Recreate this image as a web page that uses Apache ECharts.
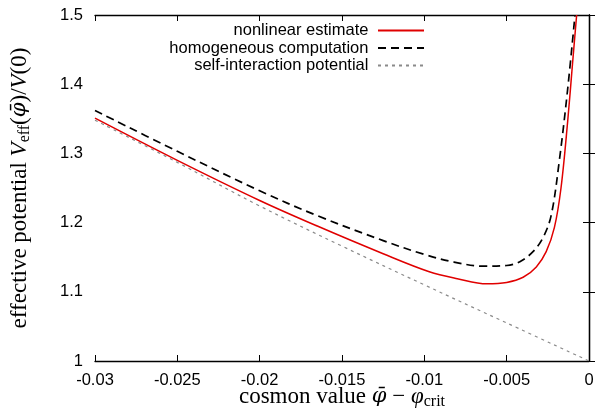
<!DOCTYPE html>
<html>
<head>
<meta charset="utf-8">
<script src="https://cdn.jsdelivr.net/npm/echarts@6/dist/echarts.min.js"></script>
<style>
html,body{margin:0;padding:0;background:#fff;}
#chart{width:597px;height:415px;}
</style>
</head>
<body>
<div id="chart"></div>
<script>
// ---- data ----
var xTicks = [-0.03, -0.025, -0.02, -0.015, -0.01, -0.005, 0];
var yTicks = [1, 1.1, 1.2, 1.3, 1.4, 1.5];
var seriesNames = ['nonlinear estimate', 'homogeneous computation', 'self-interaction potential'];

var nonlinearX = [-0.03, -0.025, -0.02, -0.0165, -0.0125, -0.0097, -0.008, -0.0062, -0.0050, -0.0040, -0.0032, -0.0026, -0.0021, -0.0017, -0.0013, -0.0010, -0.00075];
var nonlinearY = [1.351, 1.290, 1.232, 1.195, 1.155, 1.129, 1.119, 1.1115, 1.1135, 1.121, 1.136, 1.158, 1.193, 1.25, 1.345, 1.43, 1.5];

var homogX = [-0.03, -0.025, -0.02, -0.0165, -0.0125, -0.0100, -0.0082, -0.0064, -0.0050, -0.0042, -0.0034, -0.0028, -0.0023, -0.0018, -0.0013, -0.00085];
var homogY = [1.362, 1.303, 1.246, 1.210, 1.174, 1.154, 1.143, 1.137, 1.138, 1.1435, 1.158, 1.178, 1.21, 1.29, 1.392, 1.5];

var selfX = [-0.03, -0.025, -0.02, -0.015, -0.01, -0.005, 0];
var selfY = [1.348, 1.287, 1.224, 1.166, 1.110, 1.055, 1.0];

function zip(xs, ys) { var o = []; for (var i = 0; i < xs.length; i++) o.push([xs[i], ys[i]]); return o; }

var chart = echarts.init(document.getElementById('chart'), null, {renderer: 'canvas'});
var tickFont = {fontFamily: 'Liberation Sans', fontSize: 16.5, color: '#000'};
var serif = 'Liberation Serif';
var nameRich = {
  n: {fontFamily: serif, fontSize: 23, color: '#000', lineHeight: 27},
  i: {fontFamily: serif, fontSize: 23, fontStyle: 'italic', color: '#000', lineHeight: 27},
  b: {fontFamily: 'DejaVu Serif', fontSize: 21, fontStyle: 'italic', color: '#000', lineHeight: 27},
  s: {fontFamily: serif, fontSize: 16, color: '#000', lineHeight: 16, verticalAlign: 'bottom'}
};

var axisLine = {show: true, lineStyle: {color: '#000', width: 1.3}};
var tickStyle = {show: true, inside: true, length: 6, lineStyle: {color: '#000', width: 1}};

chart.setOption({
  animation: false,
  backgroundColor: '#fff',
  grid: {left: 95, right: 8, top: 15, bottom: 47, containLabel: false},
  legend: {
    data: seriesNames,
    orient: 'vertical',
    align: 'right',
    right: 172,
    top: 22,
    padding: 0,
    itemGap: 0.5,
    itemWidth: 46,
    itemHeight: 10,
    itemStyle: {opacity: 0},
    formatter: function (n) { return n + ' '; },
    textStyle: {fontFamily: 'Liberation Sans', fontSize: 16.5, color: '#000', lineHeight: 16}
  },
  xAxis: [{
    type: 'value', min: xTicks[0], max: xTicks[xTicks.length - 1], interval: 0.005,
    position: 'bottom',
    axisLine: axisLine, axisTick: tickStyle, splitLine: {show: false},
    axisLabel: Object.assign({margin: 11}, tickFont),
    name: '{n|cosmon value }{b|φ̄}{n| − }{i|φ}{s|crit}',
    nameLocation: 'middle', nameGap: 22, nameMoveOverlap: false,
    nameTextStyle: {rich: nameRich}
  }, {
    type: 'value', min: xTicks[0], max: xTicks[xTicks.length - 1], interval: 0.005,
    position: 'top',
    axisLine: axisLine, axisTick: tickStyle, splitLine: {show: false},
    axisLabel: {show: false}
  }],
  yAxis: [{
    type: 'value', min: yTicks[0], max: yTicks[yTicks.length - 1], interval: 0.1,
    position: 'left',
    axisLine: axisLine, axisTick: tickStyle, splitLine: {show: false},
    axisLabel: Object.assign({margin: 12}, tickFont),
    name: '{n|effective potential }{i|V}{s|eff}{n|(}{b|φ̄}{n|)/}{i|V}{n|(0)}',
    nameLocation: 'middle', nameGap: 62, nameRotate: 90, nameMoveOverlap: false,
    nameTextStyle: {rich: nameRich}
  }, {
    type: 'value', min: yTicks[0], max: yTicks[yTicks.length - 1], interval: 0.1,
    position: 'right',
    axisLine: axisLine, axisTick: tickStyle, splitLine: {show: false},
    axisLabel: {show: false}
  }],
  series: [{
    name: seriesNames[0], type: 'line', data: zip(nonlinearX, nonlinearY),
    smooth: 0.35, symbol: 'none', clip: true,
    lineStyle: {color: '#e00000', width: 1.5}, itemStyle: {color: '#e00000'}, z: 3
  }, {
    name: seriesNames[1], type: 'line', data: zip(homogX, homogY),
    smooth: 0.35, symbol: 'none', clip: true,
    lineStyle: {color: '#000', width: 1.7, type: [8, 5]}, itemStyle: {color: '#000'}, z: 2
  }, {
    name: seriesNames[2], type: 'line', data: zip(selfX, selfY),
    smooth: 0.35, symbol: 'none', clip: true,
    lineStyle: {color: '#8a8a8a', width: 1.2, type: [3, 4]}, itemStyle: {color: '#8a8a8a'}, z: 1
  }]
});
</script>
</body>
</html>
